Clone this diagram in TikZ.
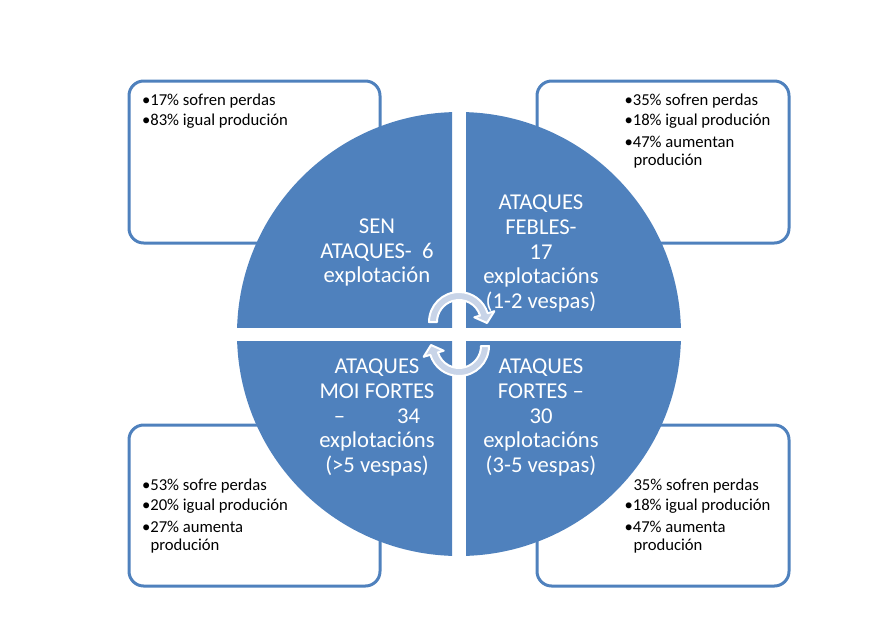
\documentclass[tikz,border=0pt]{standalone}
\usepackage{fontspec}
\setmainfont{Carlito}
\usepackage{tikz}
\usetikzlibrary{calc}
\definecolor{quadblue}{RGB}{79,129,189}
\definecolor{arrowfill}{RGB}{200,212,232}
\tikzset{every picture/.style={line width=0.75pt}}
\tikzset{
  infobox/.style={draw=quadblue, line width=2.25pt, fill=white, rounded corners=11pt},
  quad/.style={fill=quadblue},
  cycarrow/.style={fill=arrowfill, draw=white, line width=1.5pt, line join=round},
  quadtext/.style={text=white, align=center, inner sep=0pt, font=\fontsize{17}{18.5}\selectfont},
  itemtext/.style={anchor=base west, inner sep=0pt, font=\fontsize{12.5}{15}\selectfont}
}

\begin{document}
\begin{tikzpicture}[x=0.75pt,y=0.75pt,yscale=-1,xscale=1]
\useasboundingbox (0,0) rectangle (893,633);

%Rounded Rect [top left]
\draw [infobox] (129,81) rectangle (380,243) ;
%Rounded Rect [top right]
\draw [infobox] (537,81) rectangle (789,243) ;
%Rounded Rect [bottom left]
\draw [infobox] (129,425) rectangle (380,586) ;
%Rounded Rect [bottom right]
\draw [infobox] (537,425) rectangle (789,586) ;

\coordinate (ctr) at (459,334);
\coordinate (c1) at (459,322);
\coordinate (c2) at (459,346);

%Quadrants
\begin{scope}
\clip (452,327) rectangle (220,90);
\fill [quad] (ctr) circle (222);
\end{scope}
\begin{scope}
\clip (466,327) rectangle (700,90);
\fill [quad] (ctr) circle (222);
\end{scope}
\begin{scope}
\clip (452,341) rectangle (220,580);
\fill [quad] (ctr) circle (222);
\end{scope}
\begin{scope}
\clip (466,341) rectangle (700,580);
\fill [quad] (ctr) circle (222);
\end{scope}

%Circular Arrows
\draw [cycarrow] ($(c1)+(180:30)$) arc [start angle=180, end angle=343, radius=30] -- ($(c1)+(343:37)$) -- ($(c1)+(2:28)$) -- ($(c1)+(343:16)$) -- ($(c1)+(343:22)$) arc [start angle=343, end angle=180, radius=22] -- cycle ;
\draw [cycarrow] ($(c2)+(0:30)$) arc [start angle=0, end angle=163, radius=30] -- ($(c2)+(163:37)$) -- ($(c2)+(182:28)$) -- ($(c2)+(163:16)$) -- ($(c2)+(163:22)$) arc [start angle=163, end angle=0, radius=22] -- cycle ;

% Text Node
\node (sen) at (377,252.6) [quadtext] {SEN\\ATAQUES-\ \ 6\\explotación};
% Text Node
\node (febles) at (541,253.5) [quadtext] {ATAQUES\\FEBLES-\\17\\explotacións\\(1-2 vespas)};
% Text Node
\node (moifortes) at (377,417.5) [quadtext] {ATAQUES\\MOI FORTES\\–\hspace{39pt}34\\explotacións\\(>5 vespas)};
% Text Node
\node (fortes) at (541,417.5) [quadtext] {ATAQUES\\FORTES –\\30\\explotacións\\(3-5 vespas)};

% Text Node
\node (tla) at (141.5,105) [itemtext] {•17\% sofren perdas};
\node (tlb) at (141.5,125) [itemtext] {•83\% igual produción};
% Text Node
\node (tra) at (624,105) [itemtext] {•35\% sofren perdas};
\node (trb) at (624,125) [itemtext] {•18\% igual produción};
\node (trc) at (624,147) [itemtext] {•47\% aumentan};
\node (trd) at (633,165) [itemtext] {produción};
% Text Node
\node (bla) at (141.5,490) [itemtext] {•53\% sofre perdas};
\node (blb) at (141.5,510) [itemtext] {•20\% igual produción};
\node (blc) at (141.5,532) [itemtext] {•27\% aumenta};
\node (bld) at (150,550) [itemtext] {produción};
% Text Node
\node (bra) at (633,490) [itemtext] {35\% sofren perdas};
\node (brb) at (624,510) [itemtext] {•18\% igual produción};
\node (brc) at (624,532) [itemtext] {•47\% aumenta};
\node (brd) at (633,550) [itemtext] {produción};
\end{tikzpicture}
\end{document}
